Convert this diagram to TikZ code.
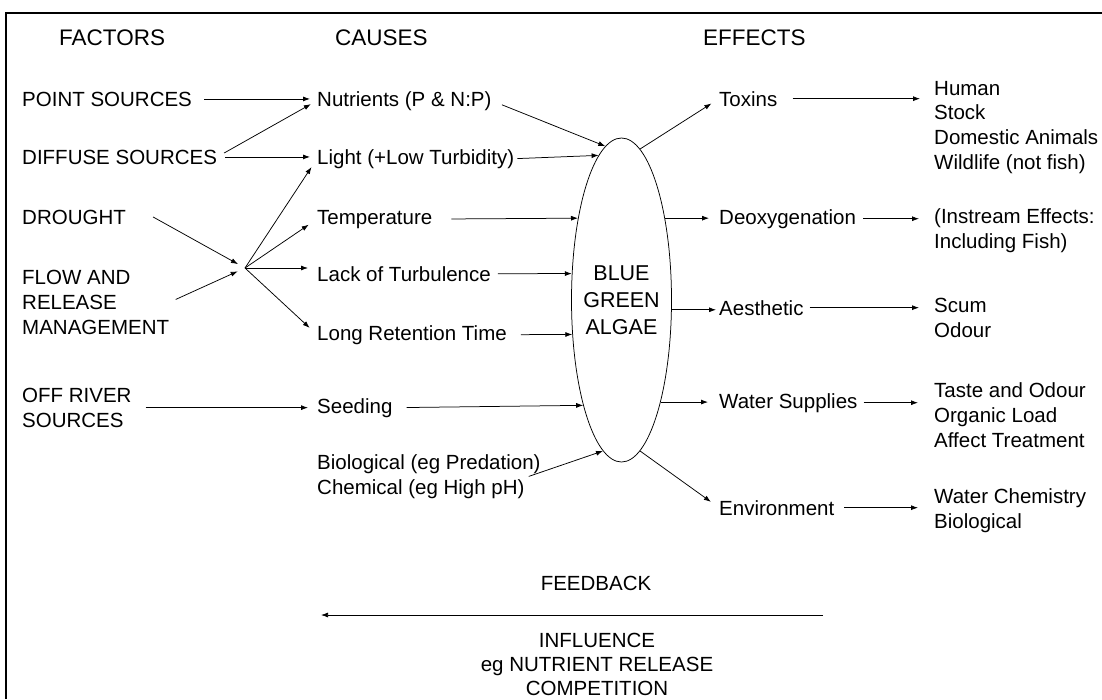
\documentclass[tikz,border=0pt]{standalone}
\usepackage{fontspec}
\setmainfont{Liberation Sans}
\usetikzlibrary{arrows.meta,shapes.geometric}

\tikzset{
  lbl/.style={inner sep=0pt, anchor=base west, align=left, font=\fontsize{20.5}{24.6}\selectfont},
  hdr/.style={inner sep=0pt, anchor=base west, font=\fontsize{22.5}{27}\selectfont},
  conn/.style={draw, line width=0.75pt, -{Latex[length=7pt,width=5pt]}},
}

\begin{document}
\begin{tikzpicture}[x=1pt,y=1pt,yscale=-1]
\useasboundingbox (0,0) rectangle (1102,699);

%Frame (top and left only)
\draw [line width=1.6pt] (1102,13) -- (6,13) -- (6,699);

% Headers
\node (facH) [hdr] at (59,45) {FACTORS};
\node (cauH) [hdr] at (335,45) {CAUSES};
\node (effH) [hdr] at (703,45) {EFFECTS};

% Text Node -- factors (multi-line nodes sit on their last baseline)
\node (point) [lbl] at (22,106) {POINT SOURCES};
\node (diff) [lbl] at (22,164) {DIFFUSE SOURCES};
\node (drought) [lbl] at (22,224) {DROUGHT};
\node (flow) [lbl] at (22,334) {FLOW AND\\RELEASE\\MANAGEMENT};
\node (offriv) [lbl] at (22,427) {OFF RIVER\\SOURCES};

% Text Node -- causes
\node (nutr) [lbl] at (317,106) {Nutrients (P \& N:P)};
\node (light) [lbl] at (317,164) {Light (+Low Turbidity)};
\node (temp) [lbl] at (317,224) {Temperature};
\node (lack) [lbl] at (317,281) {Lack of Turbulence};
\node (ret) [lbl] at (317,340) {Long Retention Time};
\node (seed) [lbl] at (317,413) {Seeding};
\node (bio) [lbl] at (317,494) {Biological (eg Predation)\\Chemical (eg High pH)};

\coordinate (hub) at (245,268);

%Shape: Ellipse
\node (alg) [ellipse, draw, line width=0.75pt, minimum width=100pt, minimum height=324pt] at (621.5,300) {};
\node (algtxt) [align=center, inner sep=0pt, font=\fontsize{21.5}{27}\selectfont] at (alg) {BLUE\\GREEN\\ALGAE};

% Text Node -- effects
\node (tox) [lbl] at (719,106) {Toxins};
\node (deox) [lbl] at (719,224) {Deoxygenation};
\node (aes) [lbl] at (719,315) {Aesthetic};
\node (water) [lbl] at (719,408) {Water Supplies};
\node (env) [lbl] at (719,515) {Environment};

% Text Node -- outcomes
\node (human) [lbl] at (934,169) {Human\\Stock\\Domestic Animals\\Wildlife (not fish)};
\node (instr) [lbl] at (934,248) {(Instream Effects:\\Including Fish)};
\node (scum) [lbl] at (934,337) {Scum\\Odour};
\node (taste) [lbl] at (934,447) {Taste and Odour\\Organic Load\\Affect Treatment};
\node (wchem) [lbl] at (934,528) {Water Chemistry\\Biological};

% Feedback
\node (fb) [lbl, anchor=base] at (596,590) {FEEDBACK};
\node (infl) [lbl, align=center, anchor=base, font=\fontsize{20.5}{24}\selectfont] at (597,695) {INFLUENCE\\eg NUTRIENT RELEASE\\COMPETITION};
\coordinate (fbR) at (823,615);
\coordinate (fbL) at (321,615);

%Straight Lines -- factors to causes
\draw [conn, shorten <=12pt, shorten >=7pt] (point.east) -- (point.east -| nutr.west);
\draw [conn, shorten <=8pt, shorten >=7pt] (diff.east) -- (nutr.west);
\draw [conn, shorten <=8pt, shorten >=7pt] (diff.east) -- (diff.east -| light.west);
\draw [conn, shorten >=8pt] ([xshift=27pt]drought.east) -- (hub);
\draw [conn, shorten <=7pt, shorten >=8pt] (flow.east) -- (hub);
\draw [conn, shorten >=10pt] (hub) -- (light.west);
\draw [conn, shorten >=10pt] (hub) -- (temp.west);
\draw [conn, shorten >=9pt] (hub) -- (hub -| lack.west);
\draw [conn, shorten >=10pt] (hub) -- (ret.west);
\draw [conn, shorten <=14pt, shorten >=9pt] (offriv.east) -- (offriv.east -| seed.west);

%Straight Lines -- causes to algae
\draw [conn, shorten <=11pt] (nutr.east) -- (alg.96);
\draw [conn, shorten <=3pt] (light.east) -- (alg.99);
\draw [conn, shorten <=19pt] (temp.east) -- (alg.118);
\draw [conn, shorten <=7pt] (lack.east) -- (alg.152);
\draw [conn, shorten <=14pt] (ret.east) -- (alg.215);
\draw [conn, shorten <=14pt] (seed.east) -- (alg.250);
\draw [conn] ([xshift=-12pt]bio.east) -- (alg.263);

%Straight Lines -- algae to effects
\draw [conn, shorten >=9pt] (alg.83) -- (tox.west);
\draw [conn, shorten >=10pt] (alg.62) -- (alg.62 -| deox.west);
\draw [conn, shorten >=3pt] (alg.349) -- (alg.349 -| aes.west);
\draw [conn, shorten >=11pt] (alg.291) -- (alg.291 -| water.west);
\draw [conn, shorten >=10pt] (alg.277) -- (env.west);

%Straight Lines -- effects to outcomes
\draw [conn, shorten <=15pt, shorten >=14pt] (tox.east) -- (tox.east -| human.west);
\draw [conn, shorten <=7pt, shorten >=15pt] (deox.east) -- (deox.east -| instr.west);
\draw [conn, shorten <=6pt, shorten >=15pt] (aes.east) -- (aes.east -| scum.west);
\draw [conn, shorten <=6pt, shorten >=16pt] (water.east) -- (water.east -| taste.west);
\draw [conn, shorten <=10pt, shorten >=16pt] (env.east) -- (env.east -| wchem.west);

%Feedback arrow
\draw [conn] (fbR) -- (fbL);

\end{tikzpicture}
\end{document}
